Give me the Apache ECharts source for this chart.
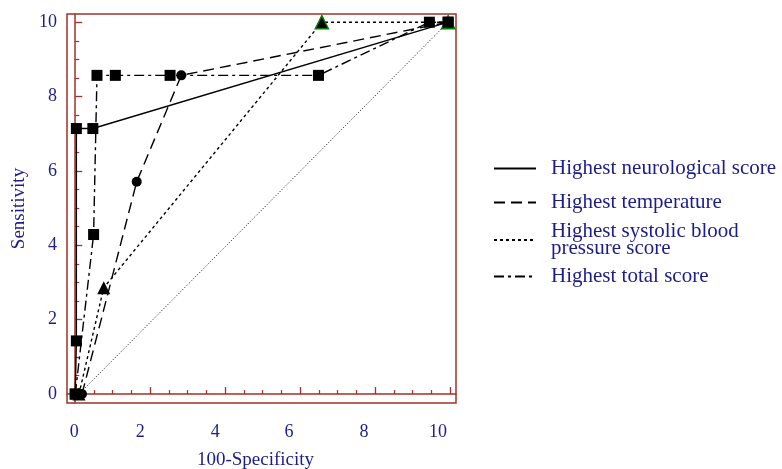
<!DOCTYPE html>
<html>
<head>
<meta charset="utf-8">
<script src="https://cdn.jsdelivr.net/npm/echarts@6/dist/echarts.min.js"></script>
<style>html,body{margin:0;padding:0;background:#fff}#c{width:782px;height:469px}</style>
</head>
<body>
<div id="c"></div>
<script>
// ---- data ----
const seriesNames = ['Highest neurological score', 'Highest temperature', 'Highest systolic blood\npressure score', 'Highest total score'];
const neuroX = [0, 0.03, 0.03, 0.47, 9.95];
const neuroY = [0, 1.43, 7.14, 7.14, 10];
const tempX = [0.18, 1.64, 2.83, 9.95];
const tempY = [0, 5.71, 8.57, 10];
const sysX = [0.1, 0.76, 6.58, 9.95];
const sysY = [0, 2.86, 10, 10];
const totalX = [0, 0.49, 0.58, 1.07, 2.53, 6.49, 9.45, 9.95];
const totalY = [0, 4.29, 8.57, 8.57, 8.57, 8.57, 10, 10];
const refX = [0.1, 9.95];
const refY = [0, 10];
const majorTicks = [0, 2, 4, 6, 8, 10];
const minorTicks = [0.5, 1, 1.5, 2.5, 3, 3.5, 4.5, 5, 5.5, 6.5, 7, 7.5, 8.5, 9, 9.5];

const pairs = (xs, ys) => xs.map((x, i) => [x, ys[i]]);

const AX = '#a0302a';
const TXT = '#1c1c8a';
const FONT = 'Liberation Serif';

// the reference prints its x tick labels slightly left of the ticks
const xLabelShift = { 0: 1, 2: 10, 4: 10, 6: 11, 8: 11, 10: 12 };
const xRich = {};
majorTicks.forEach(v => {
  xRich['t' + v] = { color: TXT, fontFamily: FONT, fontSize: 18, padding: [0, 2 * xLabelShift[v], 0, 0] };
});

const chart = echarts.init(document.getElementById('c'));

function axisPair(dim) {
  const isX = dim === 'x';
  const range = isX ? { min: -0.22, max: 10.16 } : { min: -0.24, max: 10.22 };
  return [
    Object.assign({
      type: 'value', position: isX ? 'bottom' : 'left',
      name: isX ? '100-Specificity' : 'Sensitivity',
      nameLocation: 'middle',
      nameGap: isX ? 48 : 38,
      nameTextStyle: isX
        ? { color: TXT, fontFamily: FONT, fontSize: 19, padding: [0, 12, 0, 0] }
        : { color: TXT, fontFamily: FONT, fontSize: 19 },
      axisLine: { show: true, lineStyle: { color: AX, width: 1.5 } },
      axisTick: { show: true, inside: true, length: 7, customValues: majorTicks, lineStyle: { color: AX, width: 1.3 } },
      axisLabel: isX
        ? { customValues: majorTicks, margin: 20, formatter: v => '{t' + v + '|' + v + '}', rich: xRich }
        : { customValues: majorTicks, color: TXT, fontFamily: FONT, fontSize: 18, margin: 10 },
      splitLine: { show: false }
    }, range),
    Object.assign({
      type: 'value', position: isX ? 'bottom' : 'left',
      axisLine: { show: false },
      axisTick: { show: true, inside: true, length: 4, customValues: minorTicks, lineStyle: { color: AX, width: 1.2 } },
      axisLabel: { show: false },
      splitLine: { show: false }
    }, range)
  ];
}

const lineBase = (name, xs, ys, type) => ({
  name: name, type: 'line', data: pairs(xs, ys), xAxisIndex: 0, yAxisIndex: 0,
  symbol: 'none', itemStyle: { color: '#000' },
  lineStyle: { color: '#000', width: 1.4, type: type }, z: 3
});
const markBase = (xs, ys, symbol, size, itemStyle) => ({
  type: 'scatter', data: pairs(xs, ys), xAxisIndex: 0, yAxisIndex: 0,
  symbol: symbol, symbolSize: size, itemStyle: Object.assign({ opacity: 1 }, itemStyle), z: 4, silent: true
});

const sysMarks = pairs(sysX, sysY).map((p, i) => {
  if (i === 2) return { value: p, itemStyle: { color: '#000', borderColor: '#0a7a0a', borderWidth: 1.5, opacity: 1 } };
  if (i === 3) return { value: p, itemStyle: { color: 'rgba(0,0,0,0)', borderColor: '#0a7a0a', borderWidth: 1.5, opacity: 1 } };
  return { value: p };
});

const legendTops = [158, 192, 221, 266];
const legends = seriesNames.map((n, i) => ({
  data: [n], left: 493, top: legendTops[i], orient: 'vertical', padding: 0,
  itemWidth: 42, itemHeight: 16, selectedMode: false,
  itemStyle: { opacity: 0, borderWidth: 0 },
  textStyle: { color: TXT, fontFamily: FONT, fontSize: 21, lineHeight: 17, padding: [0, 0, 0, 10] }
}));

chart.setOption({
  animation: false,
  backgroundColor: '#fff',
  grid: { left: 67, top: 14, width: 389, height: 389, outerBoundsMode: 'none', containLabel: false, show: true, borderColor: AX, borderWidth: 1.5, backgroundColor: 'transparent' },
  xAxis: axisPair('x'),
  yAxis: axisPair('y'),
  legend: legends,
  series: [
    { name: 'reference', type: 'line', data: pairs(refX, refY), symbol: 'none', lineStyle: { color: '#000', width: 1, type: [1, 2] }, z: 2, silent: true },
    lineBase(seriesNames[0], neuroX, neuroY, 'solid'),
    lineBase(seriesNames[1], tempX, tempY, [11, 6]),
    lineBase(seriesNames[2], sysX, sysY, [3, 3]),
    lineBase(seriesNames[3], totalX, totalY, [10, 4, 3, 4]),
    markBase(neuroX, neuroY, 'rect', 11, { color: '#000' }),
    markBase(tempX, tempY, 'circle', 10, { color: '#000' }),
    Object.assign(markBase(sysX, sysY, 'triangle', 13, { color: '#000' }), { data: sysMarks }),
    markBase(totalX, totalY, 'rect', 11, { color: '#000' })
  ]
});
</script>
</body>
</html>
